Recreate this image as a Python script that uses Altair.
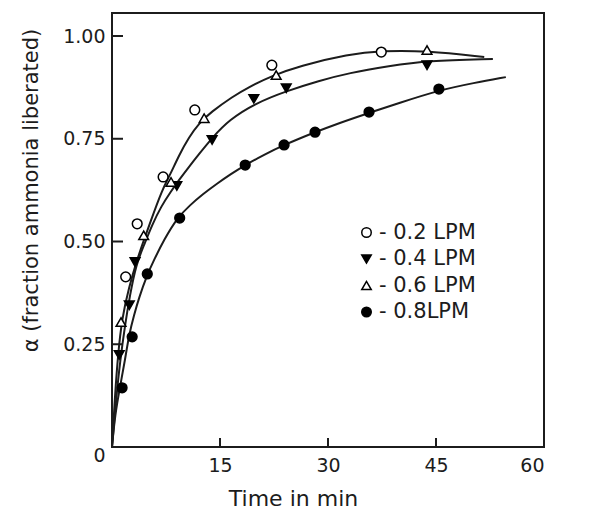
import altair as alt
import pandas as pd

# ---------------- data ----------------
series_names = ["0.2 LPM", "0.4 LPM", "0.6 LPM", "0.8LPM"]
series_shapes = ["circle", "triangle-down", "triangle-up", "circle"]
series_fills = ["white", "black", "white", "black"]
series_strokes = ["black", "black", "black", "black"]

# measured points (time in min, fraction ammonia liberated)
t_02 = [1.9, 3.5, 7.1, 11.5, 22.2, 37.4]
a_02 = [0.414, 0.543, 0.657, 0.820, 0.929, 0.961]

t_04 = [1.0, 2.4, 3.2, 9.0, 13.9, 19.7, 24.2, 43.75]
a_04 = [0.224, 0.345, 0.450, 0.635, 0.747, 0.847, 0.873, 0.929]

t_06 = [1.25, 4.4, 8.2, 12.8, 22.8, 43.75]
a_06 = [0.304, 0.515, 0.645, 0.800, 0.905, 0.966]

t_08 = [1.4, 2.8, 4.9, 9.4, 18.5, 23.9, 28.2, 35.7, 45.4]
a_08 = [0.144, 0.268, 0.421, 0.557, 0.686, 0.735, 0.766, 0.815, 0.871]

# hand-drawn fitted curves
curve_top_t = [0, 0.42, 0.83, 1.39, 2.36, 3.47, 4.44, 5.28, 6.94, 8.06, 9.31,
               10.7, 12.1, 13.75, 16.7, 19.0, 22.2, 25.97, 32.9, 37.4, 43.75, 51.7]
curve_top_a = [0, 0.127, 0.224, 0.314, 0.389, 0.455, 0.504, 0.545, 0.625, 0.662, 0.710,
               0.754, 0.788, 0.815, 0.852, 0.876, 0.903, 0.927, 0.956, 0.964, 0.964, 0.949]

curve_mid_t = [0, 0.56, 1.11, 1.81, 2.5, 3.33, 4.44, 5.56, 6.81, 8.19, 9.31,
               10.7, 12.1, 13.9, 16.25, 20.0, 24.2, 28.75, 32.9, 38.5, 43.75, 52.9]
curve_mid_a = [0, 0.114, 0.207, 0.297, 0.370, 0.443, 0.491, 0.540, 0.585, 0.622, 0.650,
               0.682, 0.713, 0.752, 0.796, 0.837, 0.866, 0.891, 0.910, 0.927, 0.940, 0.944]

curve_bot_t = [0, 0.42, 1.11, 1.81, 2.36, 3.06, 3.75, 4.86, 5.83, 7.22, 9.03, 10.8,
               12.6, 14.6, 16.5, 18.5, 21.1, 23.9, 28.2, 31.5, 35.7, 39.9, 45.4, 50.3, 54.7]
curve_bot_a = [0, 0.078, 0.146, 0.212, 0.273, 0.321, 0.363, 0.418, 0.455, 0.504, 0.557, 0.588,
               0.615, 0.641, 0.664, 0.686, 0.711, 0.735, 0.766, 0.788, 0.813, 0.837, 0.868, 0.886, 0.900]

x_tick_values = [15, 30, 45, 60]
y_tick_values = [0, 0.25, 0.5, 0.75, 1.0]
x_inner_ticks = [15, 30, 45]
y_inner_ticks = [0.25, 0.5, 0.75, 1.0]

# ---------------- tables ----------------
pts = []
for name, ts, as_ in zip(series_names, [t_02, t_04, t_06, t_08], [a_02, a_04, a_06, a_08]):
    for t, a in zip(ts, as_):
        pts.append({"series": name, "t": t, "a": a})
points_df = pd.DataFrame(pts)

crv = []
for cid, ts, as_ in [("top", curve_top_t, curve_top_a),
                     ("mid", curve_mid_t, curve_mid_a),
                     ("bot", curve_bot_t, curve_bot_a)]:
    for i, (t, a) in enumerate(zip(ts, as_)):
        crv.append({"curve": cid, "t": t, "a": a, "i": i})
curves_df = pd.DataFrame(crv)

xt_df = pd.DataFrame({"t": x_inner_ticks})
yt_df = pd.DataFrame({"a": y_inner_ticks})

W, H = 432, 434
FONT = "DejaVu Sans"
INK = "#1c1c1c"

x_scale = alt.Scale(domain=[0, 60], nice=False, zero=False)
y_scale = alt.Scale(domain=[0, 1.056], nice=False, zero=False)

x_axis = alt.Axis(
    values=x_tick_values, ticks=False, domain=False, grid=False,
    labelFontSize=19, labelFont=FONT, labelColor=INK, labelPadding=9,
    title="Time in min", titleFontSize=22, titleFont=FONT, titleFontWeight="normal",
    titleColor=INK, titleX=181, titleY=58, titleBaseline="alphabetic",
)
y_axis = alt.Axis(
    values=y_tick_values, ticks=False, domain=False, grid=False,
    labelExpr="datum.value == 0 ? '0' : format(datum.value, '.2f')",
    labelFontSize=19, labelFont=FONT, labelColor=INK, labelPadding=7,
    labelOffset=alt.condition("datum.value == 0", alt.value(8), alt.value(0)),
    title="α (fraction ammonia liberated)", titleFontSize=21, titleFont=FONT,
    titleFontWeight="normal", titleColor=INK, titleX=-81, titleY=177,
    titleAngle=270, titleBaseline="middle", titleAlign="center",
)

lines = alt.Chart(curves_df).mark_line(
    color=INK, strokeWidth=2, interpolate="basis"
).encode(
    x=alt.X("t:Q", scale=x_scale, axis=x_axis),
    y=alt.Y("a:Q", scale=y_scale, axis=y_axis),
    detail="curve:N",
    order="i:Q",
)

legend = alt.Legend(
    orient="none", legendX=244, legendY=209, title=None,
    labelFontSize=21, labelFont=FONT, labelColor=INK,
    labelExpr="'- ' + datum.label",
    symbolSize=90, symbolStrokeColor="black", symbolStrokeWidth=1.5,
    rowPadding=4.5, labelOffset=2, padding=0,
)

points = alt.Chart(points_df).mark_point(
    filled=True, strokeWidth=1.5, size=95, opacity=1
).encode(
    x=alt.X("t:Q", scale=x_scale),
    y=alt.Y("a:Q", scale=y_scale),
    shape=alt.Shape("series:N", scale=alt.Scale(domain=series_names, range=series_shapes), legend=legend),
    fill=alt.Fill("series:N", scale=alt.Scale(domain=series_names, range=series_fills), legend=legend),
    stroke=alt.Stroke("series:N", scale=alt.Scale(domain=series_names, range=series_strokes), legend=legend),
)

xticks = alt.Chart(xt_df).mark_rule(color=INK, strokeWidth=2).encode(
    x=alt.X("t:Q", scale=x_scale),
    y=alt.value(H),
    y2=alt.value(H - 9),
)
yticks = alt.Chart(yt_df).mark_rule(color=INK, strokeWidth=2).encode(
    y=alt.Y("a:Q", scale=y_scale),
    x=alt.value(0),
    x2=alt.value(11),
)

chart = alt.layer(lines, xticks, yticks, points).properties(
    width=W, height=H,
    autosize=alt.AutoSizeParams(type="none"),
    padding={"left": 112, "top": 13, "right": 46, "bottom": 62},
    background="white",
).configure_view(
    stroke=INK, strokeWidth=2
)

chart.save("out.html", embed_options={"renderer": "svg", "actions": False})
